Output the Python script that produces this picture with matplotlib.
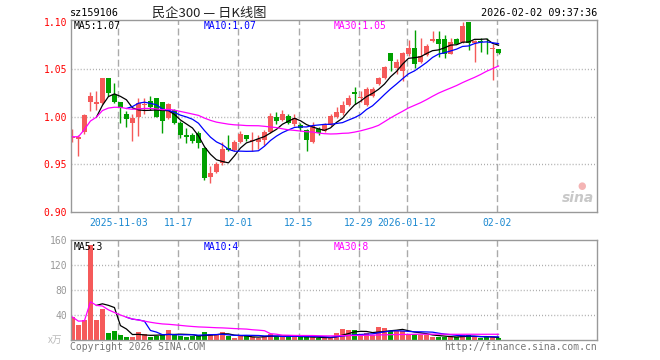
import numpy as np
import pandas as pd
import matplotlib
matplotlib.use("Agg")
import matplotlib.pyplot as plt

# --- données (sz159106, journalier) ---
dates = pd.bdate_range("2025-10-22", "2026-02-02")
dates = dates[~dates.isin(pd.to_datetime(["2026-01-01", "2026-01-02"]))]

opens = [0.978, 0.977, 0.984, 1.016, 1.013, 1.014, 1.041, 1.023, 1.016, 1.003,
         0.993, 1.000, 1.012, 1.017, 1.020, 1.015, 0.999, 1.007, 0.993, 0.981,
         0.981, 0.983, 0.967, 0.937, 0.942, 0.951, 0.967, 0.965, 0.973, 0.981,
         0.975, 0.974, 0.976, 0.984, 1.000, 0.997, 1.001, 0.992, 0.991, 0.986,
         0.974, 0.987, 0.985, 0.991, 1.000, 1.0035, 1.012, 1.026, 1.020, 1.012,
         1.022, 1.034, 1.041, 1.067, 1.051, 1.048, 1.066, 1.072, 1.057, 1.065,
         1.080, 1.082, 1.082, 1.066, 1.082, 1.078, 1.100, 1.077, 1.080, 1.079,
         1.0716, 1.071]
highs = [0.987, 0.981, 1.003, 1.026, 1.027, 1.041, 1.041, 1.035, 1.016, 1.006,
         1.003, 1.020, 1.020, 1.022, 1.020, 1.016, 1.014, 1.008, 0.996, 0.988,
         0.983, 0.985, 0.968, 0.948, 0.952, 0.974, 0.981, 0.976, 0.985, 0.981,
         0.984, 0.981, 0.986, 1.004, 1.005, 1.007, 1.003, 1.003, 0.993, 0.987,
         0.994, 0.989, 0.993, 1.003, 1.010, 1.017, 1.023, 1.031, 1.027, 1.031,
         1.031, 1.042, 1.053, 1.067, 1.061, 1.068, 1.081, 1.091, 1.083, 1.076,
         1.090, 1.090, 1.086, 1.083, 1.083, 1.100, 1.100, 1.081, 1.083, 1.083,
         1.076, 1.071]
lows = [0.973, 0.959, 0.982, 1.006, 1.007, 1.013, 1.022, 1.014, 0.993, 0.989,
        0.975, 0.980, 1.003, 1.007, 0.9997, 0.983, 0.998, 0.992, 0.978, 0.972,
        0.972, 0.967, 0.934, 0.930, 0.941, 0.949, 0.964, 0.964, 0.972, 0.975,
        0.964, 0.966, 0.970, 0.983, 0.992, 0.996, 0.992, 0.990, 0.985, 0.964,
        0.972, 0.981, 0.984, 0.990, 0.999, 1.002, 1.011, 1.013, 1.015, 1.011,
        1.021, 1.033, 1.040, 1.048, 1.045, 1.038, 1.064, 1.051, 1.056, 1.064,
        1.078, 1.063, 1.062, 1.066, 1.076, 1.077, 1.070, 1.058, 1.068, 1.066,
        1.039, 1.066]
closes = [0.979, 0.979, 1.002, 1.022, 1.016, 1.041, 1.025, 1.016, 1.009, 0.998,
          0.999, 1.014, 1.013, 1.010, 1.000, 0.996, 1.013, 0.993, 0.981, 0.979,
          0.975, 0.972, 0.936, 0.941, 0.950, 0.966, 0.965, 0.973, 0.982, 0.977,
          0.976, 0.977, 0.984, 1.001, 0.996, 1.003, 0.993, 0.999, 0.988, 0.976,
          0.9905, 0.983, 0.991, 1.001, 1.005, 1.012, 1.020, 1.024, 1.021, 1.029,
          1.029, 1.041, 1.052, 1.059, 1.057, 1.067, 1.072, 1.055, 1.064, 1.074,
          1.082, 1.076, 1.066, 1.078, 1.076, 1.0955, 1.077, 1.080, 1.078, 1.078,
          1.0726, 1.067]
volumes = [36.8, 23.5, 32, 152.5, 32, 49.6, 11.2, 14.4, 8, 4.8,
           5.3, 12.8, 9.6, 4.8, 6, 8, 16, 9.6, 7, 4.3,
           6, 6, 12.8, 9.6, 8, 12.8, 6, 2.5, 6, 6,
           4.5, 4, 6, 10, 6, 6, 6, 5.3, 4.3, 4.3,
           4.3, 3.7, 2.7, 3.7, 11.5, 17.6, 16, 16, 8.2, 10.5,
           8.5, 20.8, 19.2, 15, 15, 15, 9.6, 9, 8.7, 8.2,
           4.8, 4.8, 4.8, 4.8, 4.8, 8, 7.5, 4.5, 2.5, 4.8,
           5.2, 2.7]

tick_dates = ["2025-11-03", "2025-11-17", "2025-12-01", "2025-12-15",
              "2025-12-29", "2026-01-12", "2026-02-02"]
tick_labels = ["2025-11-03", "11-17", "12-01", "12-15", "12-29", "2026-01-12", "02-02"]
price_ticks = [0.90, 0.95, 1.00, 1.05, 1.10]
vol_ticks = [40, 80, 120, 160]

RED = "#f55a5a"
GREEN = "#00a000"
GRID = "#aaaaaa"
FRAME = "#999999"
MONO = "DejaVu Sans Mono"

W, H = 660, 360


def box(l, t, r, b):
    return [l / W, 1 - b / H, (r - l) / W, (b - t) / H]


x = np.arange(len(closes))
o = np.array(opens); h = np.array(highs); l = np.array(lows); c = np.array(closes)
up = c >= o
cols = np.where(up, RED, GREEN)

cl = pd.Series(c)
ma5 = cl.rolling(5).mean()
ma10 = cl.rolling(10).mean()
ma30 = cl.rolling(30, min_periods=1).mean()
vs = pd.Series(volumes)
vma5 = vs.rolling(5).mean()
vma10 = vs.rolling(10).mean()
vma30 = vs.rolling(30, min_periods=1).mean()

tick_pos = [list(dates.strftime("%Y-%m-%d")).index(d) - 0.33 for d in tick_dates]

fig = plt.figure(figsize=(6.6, 3.6), dpi=100)
ax1 = fig.add_axes(box(70.5, 20, 597, 212))
ax2 = fig.add_axes(box(70.5, 240, 597, 340))
xmin, xmax = -0.32, 87.4

# bougies
ax1.vlines(x, l, h, colors=cols, lw=1, zorder=2)
body = np.maximum(np.abs(c - o), 0.0009)
ax1.bar(x, body, bottom=np.minimum(o, c), width=0.75, color=cols, zorder=2)
ax1.plot(x, ma5, color="black", lw=0.9, zorder=3)
ax1.plot(x, ma10, color="#0000ff", lw=0.9, zorder=3)
ax1.plot(x, ma30, color="#ff00ff", lw=0.9, zorder=3)
ax1.set_ylim(0.90, 1.1016)
ax1.set_xlim(xmin, xmax)
for y in [0.95, 1.00, 1.05]:
    ax1.axhline(y, color=GRID, lw=1, ls=(0, (0.7, 1.5)), zorder=1)
ax1.set_yticks(price_ticks)
ax1.set_yticklabels([f"{t:.2f}" for t in price_ticks], color="red",
                    fontfamily=MONO, fontsize=7)
ax1.set_xticks(tick_pos)
ax1.set_xticklabels(tick_labels, color="#1a88d0", fontfamily=MONO, fontsize=7)
ax1.tick_params(length=0, pad=2.5)
ax1.tick_params(axis="x", pad=4)

# volumes
ax2.bar(x, volumes, width=0.82, color=cols, zorder=2)
ax2.plot(x, vma5, color="black", lw=0.9, zorder=3)
ax2.plot(x, vma10, color="#0000ff", lw=0.9, zorder=3)
ax2.plot(x, vma30, color="#ff00ff", lw=0.9, zorder=3)
ax2.set_ylim(0, 160)
ax2.set_xlim(xmin, xmax)
for y in [40, 80, 120]:
    ax2.axhline(y, color=GRID, lw=1, ls=(0, (0.7, 1.5)), zorder=1)
ax2.set_yticks(vol_ticks)
ax2.set_yticklabels([str(v) for v in vol_ticks], color="#999999",
                    fontfamily=MONO, fontsize=7)
ax2.set_xticks([])
ax2.tick_params(length=0, pad=2.5)

for ax in (ax1, ax2):
    for p in tick_pos:
        ax.axvline(p, color=GRID, lw=1, ls=(0, (5, 2.5)), zorder=1)
    for s in ax.spines.values():
        s.set_color(FRAME)
        s.set_linewidth(1)


def ftext(px, py, s, **kw):
    fig.text(px / W, 1 - py / H, s, va="center", **kw)


ftext(70, 13, "sz159106", fontfamily=MONO, fontsize=7.3, color="black")
ftext(209, 13, "民企300 — 日K线图", ha="center", fontsize=9.5,
      family=["Noto Sans CJK SC", "DejaVu Sans"], color="#222222")
ftext(597, 13, "2026-02-02 09:37:36", ha="right", fontfamily=MONO, fontsize=7.3,
      color="black")

ftext(74, 26, "MA5:1.07", fontfamily=MONO, fontsize=7, color="black")
ftext(204, 26, "MA10:1.07", fontfamily=MONO, fontsize=7, color="#0000ff")
ftext(334, 26, "MA30:1.05", fontfamily=MONO, fontsize=7, color="#ff00ff")
ftext(74, 246.5, "MA5:3", fontfamily=MONO, fontsize=7, color="black")
ftext(204, 246.5, "MA10:4", fontfamily=MONO, fontsize=7, color="#0000ff")
ftext(334, 246.5, "MA30:8", fontfamily=MONO, fontsize=7, color="#ff00ff")

ftext(48, 340, "x万", family=["Noto Sans CJK SC", "DejaVu Sans"], fontsize=7,
      color="#bbbbbb", style="italic")
ftext(70, 347, "Copyright 2026 SINA.COM", fontfamily=MONO, fontsize=7, color="#777777")
ftext(597, 347, "http://finance.sina.com.cn", ha="right", fontfamily=MONO,
      fontsize=7, color="#777777")

# filigrane sina
ftext(578, 198, "sina", ha="center", fontsize=10, fontweight="bold",
      style="italic", color="#c8c8c8")
ftext(582, 186, "●", ha="center", fontsize=7, color="#f4b4b4")

fig.savefig("out.png", dpi=100)
